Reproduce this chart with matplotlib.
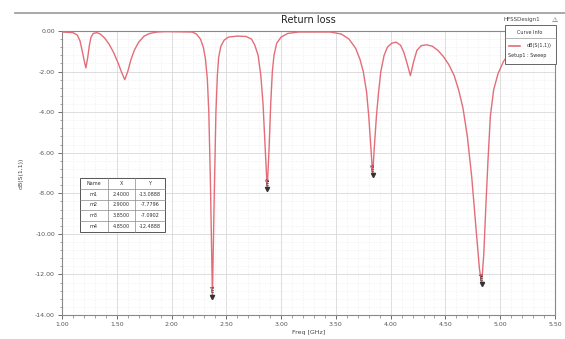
import matplotlib
matplotlib.use("Agg")
import matplotlib.pyplot as plt
from matplotlib.ticker import MultipleLocator, FormatStrFormatter
from matplotlib.patches import Rectangle
from matplotlib.lines import Line2D

# ---- data ----
freq_ghz = [1.00, 1.10, 1.14, 1.165, 1.185, 1.20, 1.218, 1.235, 1.25, 1.265,
            1.285, 1.318, 1.35, 1.39, 1.43, 1.47, 1.51, 1.545, 1.573, 1.60,
            1.63, 1.66, 1.70, 1.75, 1.80, 1.87, 1.95, 2.19, 2.227, 2.264,
            2.29, 2.31, 2.327, 2.34, 2.355, 2.373, 2.39, 2.405, 2.418, 2.43,
            2.45, 2.48, 2.52, 2.60, 2.68, 2.73, 2.76, 2.79, 2.815, 2.835,
            2.855, 2.873, 2.89, 2.905, 2.92, 2.935, 2.96, 3.00, 3.06, 3.16,
            3.45, 3.55, 3.62, 3.68, 3.72, 3.75, 3.78, 3.80, 3.82, 3.836,
            3.85, 3.87, 3.89, 3.91, 3.94, 3.97, 4.01, 4.05, 4.09, 4.12,
            4.15, 4.18, 4.21, 4.24, 4.28, 4.33, 4.38, 4.43, 4.48, 4.53,
            4.58, 4.62, 4.66, 4.70, 4.74, 4.78, 4.81, 4.83, 4.85, 4.87,
            4.89, 4.91, 4.94, 4.98, 5.03, 5.09, 5.16, 5.25, 5.35, 5.50]
s11_db = [-0.05, -0.08, -0.20, -0.50, -1.00, -1.40, -1.82, -1.30, -0.70, -0.30,
          -0.12, -0.08, -0.15, -0.35, -0.65, -1.05, -1.55, -2.05, -2.40, -2.00,
          -1.40, -0.95, -0.55, -0.25, -0.12, -0.05, -0.03, -0.05, -0.15, -0.40,
          -0.80, -1.40, -2.40, -4.00, -7.50, -13.09, -8.00, -4.00, -2.20, -1.30,
          -0.75, -0.45, -0.30, -0.25, -0.27, -0.40, -0.70, -1.20, -2.20, -3.60,
          -5.80, -7.78, -5.80, -3.60, -2.00, -1.20, -0.60, -0.30, -0.12, -0.05,
          -0.05, -0.15, -0.40, -0.85, -1.40, -2.00, -3.00, -4.20, -5.80, -7.09,
          -5.80, -4.20, -3.00, -2.00, -1.20, -0.80, -0.60, -0.55, -0.70, -1.05,
          -1.60, -2.20, -1.50, -0.95, -0.72, -0.68, -0.75, -0.95, -1.25, -1.65,
          -2.20, -2.90, -3.80, -5.20, -7.20, -9.80, -11.70, -12.49, -11.00, -8.50,
          -6.20, -4.20, -2.90, -2.10, -1.50, -1.05, -0.70, -0.45, -0.30, -0.20]

marker_names = ["m1", "m2", "m3", "m4"]
marker_f = [2.373, 2.873, 3.836, 4.83]
marker_db = [-13.09, -7.78, -7.09, -12.49]
marker_x_text = ["2.4000", "2.9000", "3.8500", "4.8500"]
marker_y_text = ["-13.0888", "-7.7796", "-7.0902", "-12.4888"]

x_ticks = [1.0, 1.5, 2.0, 2.5, 3.0, 3.5, 4.0, 4.5, 5.0, 5.5]
y_ticks = [0, -2, -4, -6, -8, -10, -12, -14]

W, H = 565, 339
fig = plt.figure(figsize=(W / 100, H / 100), dpi=100)
fig.patch.set_facecolor("white")
ax = fig.add_axes([62 / W, 1 - 315 / H, (555 - 62) / W, (315 - 31) / H])

line_color = "#e36d79"
ax.plot(freq_ghz, s11_db, color=line_color, lw=1.0, zorder=3)

ax.set_xlim(1.0, 5.5)
ax.set_ylim(-14, 0)
ax.set_xticks(x_ticks)
ax.set_yticks(y_ticks)
ax.xaxis.set_minor_locator(MultipleLocator(0.1))
ax.yaxis.set_minor_locator(MultipleLocator(0.4))
ax.xaxis.set_major_formatter(FormatStrFormatter("%.2f"))
ax.yaxis.set_major_formatter(FormatStrFormatter("%.2f"))
ax.tick_params(axis="both", which="major", labelsize=4.5, length=3, width=0.6,
               colors="#555555", pad=2)
ax.tick_params(axis="both", which="minor", length=1.8, width=0.5, colors="#777777")
ax.grid(True, which="major", color="#d8d8d8", lw=0.6)
ax.grid(True, which="minor", color="#eeeeee", lw=0.5, ls=(0, (2, 2)))
for sp in ax.spines.values():
    sp.set_color("#888888")
    sp.set_linewidth(0.8)

ax.set_xlabel("Freq [GHz]", fontsize=4.5, color="#444444", labelpad=2)
ax.set_ylabel("dB(S(1,1))", fontsize=4.5, color="#444444", labelpad=8)

# markers
for name, f, d in zip(marker_names, marker_f, marker_db):
    ax.plot([f], [d], marker="v", ms=3, color="#333333", zorder=4)
    ax.text(f + 0.005, d + 0.2, name, fontsize=3.5, color="#333333", rotation=90,
            ha="center", va="bottom", zorder=5)

# title and header
fig.add_artist(Line2D([15 / W, 1.0], [1 - 13 / H, 1 - 13 / H], color="#999999", lw=1.2))
fig.text(308 / W, 1 - 20 / H, "Return loss", fontsize=7, ha="center", va="center", color="#222222")
fig.text(540 / W, 1 - 20 / H, "HFSSDesign1", fontsize=4, ha="right", va="center", color="#444444")
fig.text(555 / W, 1 - 20 / H, "\u26a0", fontsize=5, ha="center", va="center", color="#555555",
         family=["DejaVu Sans"])

# legend box (Curve Info)
lx0, ly0, lx1, ly1 = 505, 25, 556, 64
fig.add_artist(Rectangle((lx0 / W, 1 - ly1 / H), (lx1 - lx0) / W, (ly1 - ly0) / H,
                         facecolor="white", edgecolor="#666666", lw=0.7, zorder=10))
fig.add_artist(Line2D([lx0 / W, lx1 / W], [1 - 38 / H, 1 - 38 / H], color="#999999", lw=0.5, zorder=11))
fig.text(530 / W, 1 - 32 / H, "Curve Info", fontsize=3.5, ha="center", va="center", color="#333333", zorder=12)
fig.add_artist(Line2D([509 / W, 520 / W], [1 - 46 / H, 1 - 46 / H], color=line_color, lw=1.2, zorder=12))
fig.text(552 / W, 1 - 46 / H, "dB(S(1,1))", fontsize=3.5, ha="right", va="center", color="#333333", zorder=12)
fig.text(508 / W, 1 - 55 / H, "Setup1 : Sweep", fontsize=3.5, ha="left", va="center", color="#333333", zorder=12)

# marker table
tx0, ty0, tx1, ty1 = 80, 178, 165, 232
col_x = [80, 108, 135, 165]
nrows = 5
rh = (ty1 - ty0) / nrows
fig.add_artist(Rectangle((tx0 / W, 1 - ty1 / H), (tx1 - tx0) / W, (ty1 - ty0) / H,
                         facecolor="white", edgecolor="#555555", lw=0.7, zorder=10))
for i in range(1, nrows):
    yy = 1 - (ty0 + i * rh) / H
    fig.add_artist(Line2D([tx0 / W, tx1 / W], [yy, yy], color="#888888", lw=0.5, zorder=11))
for cx in col_x[1:-1]:
    fig.add_artist(Line2D([cx / W, cx / W], [1 - ty0 / H, 1 - ty1 / H], color="#888888", lw=0.5, zorder=11))
rows = [["Name", "X", "Y"]] + [[n, xs, ys] for n, xs, ys in zip(marker_names, marker_x_text, marker_y_text)]
for r, row in enumerate(rows):
    yc = 1 - (ty0 + (r + 0.5) * rh) / H
    for c, txt in enumerate(row):
        xc = (col_x[c] + col_x[c + 1]) / 2 / W
        fig.text(xc, yc, txt, fontsize=3.5, ha="center", va="center", color="#333333", zorder=12)

fig.savefig("out.png", dpi=100, facecolor="white")
